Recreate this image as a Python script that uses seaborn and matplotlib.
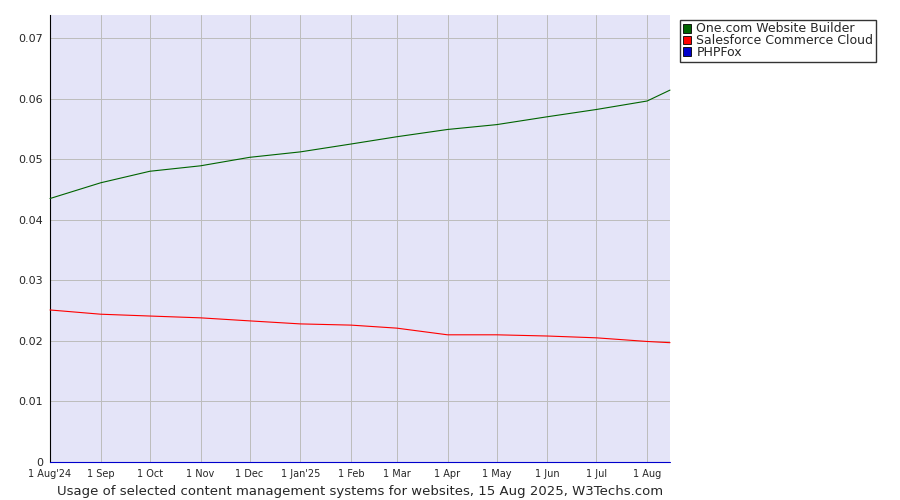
import pandas as pd
import matplotlib
matplotlib.use("Agg")
import matplotlib.pyplot as plt
import seaborn as sns

dates = ["2024-08-01", "2024-09-01", "2024-10-01", "2024-11-01", "2024-12-01", "2025-01-01",
         "2025-02-01", "2025-03-01", "2025-04-01", "2025-05-01", "2025-06-01", "2025-07-01",
         "2025-08-01", "2025-08-15"]
onecom = [0.0435, 0.0461, 0.0480, 0.0489, 0.0503, 0.0512, 0.0525, 0.0537, 0.0549, 0.0557,
          0.0570, 0.0582, 0.0596, 0.0614]
salesforce = [0.0251, 0.0244, 0.0241, 0.0238, 0.0233, 0.0228, 0.0226, 0.0221, 0.0210, 0.0210,
              0.0208, 0.0205, 0.0199, 0.0197]
phpfox = [0.0] * 14
tick_labels = ["1 Aug'24", "1 Sep", "1 Oct", "1 Nov", "1 Dec", "1 Jan'25", "1 Feb", "1 Mar",
               "1 Apr", "1 May", "1 Jun", "1 Jul", "1 Aug"]

sns.set_style("white")
plt.rcParams['font.family'] = ['Verdana', 'DejaVu Sans']

df = pd.DataFrame({"date": pd.to_datetime(dates),
                   "One.com Website Builder": onecom,
                   "Salesforce Commerce Cloud": salesforce,
                   "PHPFox": phpfox})
long = df.melt("date", var_name="system", value_name="share")
colors = {"One.com Website Builder": "#006400", "Salesforce Commerce Cloud": "#ff0000", "PHPFox": "#0000cc"}

fig = plt.figure(figsize=(9, 5), dpi=100)
ax = fig.add_axes([50/900, 38/500, 620/900, 447/500])
ax.set_facecolor("#e4e4f8")
sns.lineplot(data=long, x="date", y="share", hue="system", palette=colors, linewidth=0.8, ax=ax, legend=False)
for ln in ax.lines:
    ln.set_clip_on(False)
    ln.set_zorder(3)

ax.set_xlim(pd.Timestamp("2024-08-01"), pd.Timestamp("2025-08-15"))
ax.set_ylim(0, 0.0738)
ax.set_yticks([0, 0.01, 0.02, 0.03, 0.04, 0.05, 0.06, 0.07])
ax.set_yticklabels(["0", "0.01", "0.02", "0.03", "0.04", "0.05", "0.06", "0.07"], fontsize=8)
ax.set_xticks(pd.to_datetime(dates[:13]))
ax.set_xticklabels(tick_labels, fontsize=7)
ax.tick_params(length=3, pad=2)
ax.grid(True, color="#bcbcbc", linewidth=0.7)
for s in ax.spines.values():
    s.set_visible(False)
ax.spines["left"].set_visible(True)
ax.spines["left"].set_color("black")
ax.set_xlabel("Usage of selected content management systems for websites, 15 Aug 2025, W3Techs.com", fontsize=9.5, labelpad=4)
ax.set_ylabel("")

handles = [plt.Rectangle((0, 0), 1, 1, facecolor=c, edgecolor="black", linewidth=0.6) for c in colors.values()]
fig.legend(handles, list(colors.keys()), loc="upper left", bbox_to_anchor=(680/900, 1 - 20/500),
           fontsize=9, frameon=True, fancybox=False, edgecolor="black", handlelength=0.7, handleheight=0.7,
           handletextpad=0.4, labelspacing=-0.1, borderpad=0.2, borderaxespad=0)

fig.savefig("out.png", dpi=100, facecolor="white")
